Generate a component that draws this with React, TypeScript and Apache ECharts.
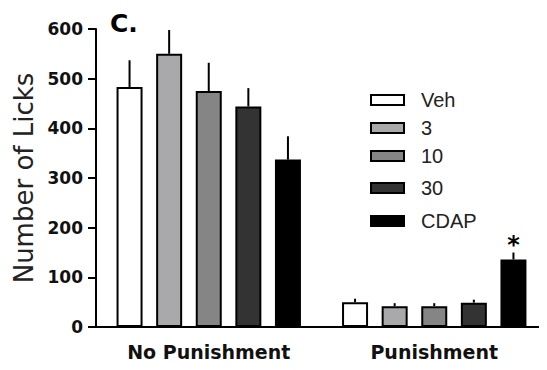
import React, { useEffect, useRef } from "react";
import * as echarts from "echarts";

const categories = ["No Punishment", "Punishment"];
const doses = ["Veh", "3", "10", "30", "CDAP"];
const vehMeans = [483, 50];
const dose3Means = [550, 42];
const dose10Means = [475, 42];
const dose30Means = [444, 49];
const cdapMeans = [337, 136];
const vehErr = [54, 7];
const dose3Err = [48, 6];
const dose10Err = [57, 6];
const dose30Err = [37, 6];
const cdapErr = [47, 14];
const cdapSignificance = ["", "*"];
const yTicks = [0, 100, 200, 300, 400, 500, 600];

const means = [vehMeans, dose3Means, dose10Means, dose30Means, cdapMeans];
const errs = [vehErr, dose3Err, dose10Err, dose30Err, cdapErr];
const sigs = [["", ""], ["", ""], ["", ""], ["", ""], cdapSignificance];
const fills = ["#ffffff", "#a9a9ab", "#858585", "#333333", "#000000"];
const legendY = [100, 128, 156, 188, 221];

const BAR_W = 26;
const PITCH = 39.6;

export default function App() {
  const ref = useRef<HTMLDivElement>(null);
  useEffect(() => {
    if (!ref.current) return;
    const chart = echarts.init(ref.current, null, { renderer: "svg" });
    const barSeries = doses.map((d, i) => ({
      type: "bar",
      name: d,
      data: means[i],
      barWidth: BAR_W,
      barGap: ((PITCH - BAR_W) / BAR_W * 100).toFixed(1) + "%",
      itemStyle: { color: fills[i], borderColor: "#000", borderWidth: 2 },
      silent: true,
      z: 2,
    }));
    const errData: any[] = [];
    doses.forEach((d, i) => {
      categories.forEach((c, j) => {
        errData.push([j, i, means[i][j], errs[i][j], sigs[i][j]]);
      });
    });
    const errSeries = {
      type: "custom",
      name: "err",
      data: errData,
      encode: { x: 0, y: 2 },
      z: 3,
      silent: true,
      renderItem: (params: any, api: any) => {
        const cat = api.value(0);
        const di = api.value(1);
        const m = api.value(2);
        const e = api.value(3);
        const sig = errData[params.dataIndex][4];
        const base = api.coord([cat, m]);
        const top = api.coord([cat, m + e]);
        const x = base[0] + (di - 2) * PITCH;
        const children: any[] = [
          {
            type: "line",
            shape: { x1: x, y1: base[1], x2: x, y2: top[1] },
            style: { stroke: "#000", lineWidth: 2 },
          },
        ];
        if (sig) {
          children.push({
            type: "text",
            x: x,
            y: top[1] + 4,
            style: {
              text: sig,
              fontSize: 24,
              fontFamily: "DejaVu Sans",
              fontWeight: "bold",
              fill: "#000",
              align: "center",
              verticalAlign: "bottom",
            },
          });
        }
        return { type: "group", children };
      },
    };
    const legendGraphics: any[] = [];
    doses.forEach((d, i) => {
      legendGraphics.push({
        type: "rect",
        shape: { x: 371, y: legendY[i] - 5, width: 33, height: 10 },
        style: { fill: fills[i], stroke: "#000", lineWidth: 2 },
      });
      legendGraphics.push({
        type: "text",
        x: 421,
        y: legendY[i],
        style: {
          text: d,
          fontSize: 20,
          fontFamily: "Liberation Sans",
          fill: "#222",
          verticalAlign: "middle",
        },
      });
    });
    chart.setOption({
      animation: false,
      grid: { left: 96, right: 0, top: 29, bottom: 43 },
      xAxis: {
        type: "category",
        data: categories,
        axisLine: { lineStyle: { color: "#000", width: 2 } },
        axisTick: { alignWithLabel: true, length: 9, lineStyle: { color: "#000", width: 2 } },
        axisLabel: {
          margin: 15,
          fontSize: 19,
          fontWeight: "bold",
          fontFamily: "DejaVu Sans",
          color: "#111",
        },
      },
      yAxis: {
        type: "value",
        min: yTicks[0],
        max: yTicks[yTicks.length - 1],
        interval: 100,
        name: "Number of Licks",
        nameLocation: "middle",
        nameRotate: 90,
        nameGap: 58,
        nameTextStyle: { fontSize: 26, fontFamily: "DejaVu Sans", color: "#222" },
        axisLine: { show: true, lineStyle: { color: "#000", width: 2 } },
        axisTick: { show: true, length: 8, lineStyle: { color: "#000", width: 2 } },
        splitLine: { show: false },
        axisLabel: {
          margin: 13,
          fontSize: 17,
          fontWeight: "bold",
          fontFamily: "DejaVu Sans",
          color: "#111",
        },
      },
      graphic: [
        {
          type: "text",
          left: 110,
          top: 11,
          style: { text: "C.", fontSize: 25, fontWeight: "bold", fontFamily: "DejaVu Sans", fill: "#000" },
        },
        ...legendGraphics,
      ],
      series: [...barSeries, errSeries],
    });
    return () => chart.dispose();
  }, []);
  return <div ref={ref} style={{ width: 547, height: 370, marginLeft: -8, marginTop: -8 }} />;
}
